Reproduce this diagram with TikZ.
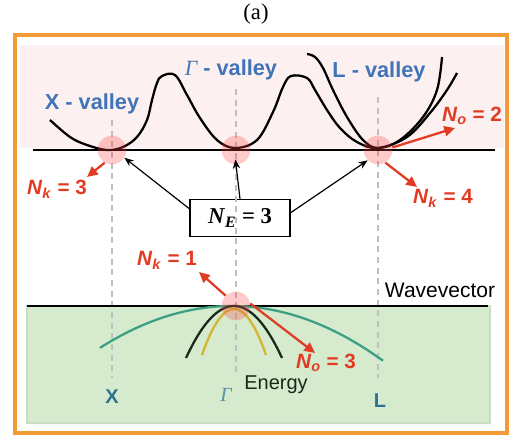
\documentclass[tikz,border=0pt]{standalone}
\usepackage{fontspec}
\setmainfont{Liberation Serif}
\setsansfont{Liberation Sans}
\usetikzlibrary{arrows.meta,positioning,calc}

\definecolor{frameorange}{RGB}{242,155,55}
\definecolor{valleyblue}{RGB}{65,115,185}
\definecolor{countred}{RGB}{225,60,35}
\definecolor{pinkbg}{RGB}{253,240,240}
\definecolor{greenbg}{RGB}{214,234,206}
\definecolor{greenedge}{RGB}{200,222,194}
\definecolor{bandteal}{RGB}{60,160,130}
\definecolor{bandyellow}{RGB}{212,180,50}
\definecolor{banddark}{RGB}{25,40,25}
\definecolor{pointteal}{RGB}{45,115,145}

\tikzset{
  guide/.style={draw=black!25, line width=1.5pt, dash pattern=on 4.5pt off 3.5pt},
  valleydot/.style={circle, fill=red!75, fill opacity=0.28, minimum size=21.5pt, inner sep=0pt},
  valleylabel/.style={text=valleyblue, inner sep=0pt, font=\sffamily\bfseries\fontsize{16.3}{18}\selectfont},
  countlabel/.style={text=countred, inner sep=0pt, font=\sffamily\bfseries\fontsize{15.5}{18}\selectfont},
  countarrow/.style={draw=countred, line width=1.7pt, -{Triangle[length=8pt,width=7.5pt]}},
  pointarrow/.style={line width=0.9pt, -{Stealth[length=7pt,width=5.5pt]}},
  band/.style={line width=1.7pt},
}

\begin{document}
\begin{tikzpicture}[x=0.75pt,y=-0.75pt]
  \useasboundingbox (0,0) rectangle (520,446);
  \node[font=\fontsize{17}{20}\selectfont] (title) at (256,14) {(a)};

  \fill[pinkbg] (20,45) rectangle (504,148);
  \draw[greenedge, fill=greenbg, line width=1.5pt] (27,306) rectangle (490,423);
  \draw[frameorange, line width=2.3pt] (15,35) rectangle (507,433);

  \node[draw, line width=1.1pt, minimum width=75pt, minimum height=27.5pt,
        font=\rmfamily\bfseries\fontsize{17}{20}\selectfont] (NEbox) at (240,218)
        {\textit{N}\textsubscript{\textit{E}} = 3};

  \draw[guide] (112,120) -- (112,378);
  \draw[guide] (236,89) -- (236,372);
  \draw[guide] (378,97) -- (378,378);

  \draw[line width=1.7pt] plot[smooth, tension=0.6] coordinates {
    (50,120) (70,137) (87,145) (107,150) (123,147) (137,137) (147,120) (152,100)
    (157,83) (162,76) (175,75) (187,95) (200,118) (217,140) (235,148)
    (257,140) (273,112) (283,87) (291,76) (307,78) (315,90) (327,110)
    (340,128) (357,142) (378,148) (407,137) (430,113) (447,90) (457,73)};
  \draw[line width=1.7pt] plot[smooth, tension=0.6] coordinates {
    (307,54) (315,57) (323,68) (333,90) (347,117) (363,140) (378,148)
    (400,140) (423,117) (437,90) (442,57)};

  \draw[line width=1.1pt] (33,150) -- (495,150);
  \draw[line width=1.1pt] (27,306) -- (488,306);

  \draw[band, bandteal] plot[domain=100:383, samples=50] (\x, {306+(0.049*(\x-232))^2});
  \draw[band, banddark] plot[domain=186:282, samples=40] (\x, {306+(0.1502*(\x-234))^2});
  \draw[band, bandyellow] plot[domain=202:266, samples=40] (\x, {309+(0.2119*(\x-234))^2});

  \node[valleydot] (Xdot) at (112,150) {};
  \node[valleydot] (Gdot) at (236,150) {};
  \node[valleydot] (Ldot) at (378,150) {};
  \node[valleydot] (Gbdot) at (236,306) {};

  \node[valleylabel] (Xname) at (92,104) {X - valley};
  \node[valleylabel] (Gname) at (231,70) {{\rmfamily\mdseries\itshape Γ} - valley};
  \node[valleylabel] (Lname) at (379,72) {L - valley};

  \draw[pointarrow] ([yshift=7pt]NEbox.west) -- (Xdot.-32);
  \draw[pointarrow, shorten >=-4pt] (NEbox.north) -- (Gdot.south);
  \draw[pointarrow] ([yshift=4pt]NEbox.east) -- (Ldot.-135);

  \coordinate (XkTip) at (87,177);
  \coordinate (LoTip) at (455,128);
  \coordinate (LkTip) at (417,187);
  \coordinate (GkTip) at (199,272);
  \coordinate (GoTip) at (315,353);
  \draw[countarrow] (Xdot.240) -- (XkTip);
  \draw[countarrow] (Ldot.10) -- (LoTip);
  \draw[countarrow] (Ldot.-60) -- (LkTip);
  \draw[countarrow] (Gbdot.135) -- (GkTip);
  \draw[countarrow] (Gbdot.10) -- (GoTip);

  \node[countlabel] (Xk) at (57,189) {\textit{N}\textsubscript{\textit{k}} = 3};
  \node[countlabel] (Lo) at (472,116) {\textit{N}\textsubscript{\textit{o}} = 2};
  \node[countlabel] (Lk) at (443,198) {\textit{N}\textsubscript{\textit{k}} = 4};
  \node[countlabel] (Gk) at (167,260) {\textit{N}\textsubscript{\textit{k}} = 1};
  \node[countlabel] (Go) at (326,363) {\textit{N}\textsubscript{\textit{o}} = 3};

  \node[inner sep=0pt, font=\sffamily\fontsize{15.75}{18}\selectfont] (wave) at (440,290) {Wavevector};
  \node[inner sep=0pt, text=banddark, font=\sffamily\fontsize{15}{18}\selectfont] (energy) at (276,385) {Energy};
  \node[inner sep=0pt, text=pointteal, font=\sffamily\bfseries\fontsize{15}{18}\selectfont] (Xpt) at (112,397) {X};
  \node[inner sep=0pt, text=pointteal!80, font=\rmfamily\itshape\fontsize{15}{18}\selectfont] (Gpt) at (226,395) {Γ};
  \node[inner sep=0pt, text=pointteal, font=\sffamily\bfseries\fontsize{15}{18}\selectfont] (Lpt) at (380,401) {L};
\end{tikzpicture}
\end{document}
